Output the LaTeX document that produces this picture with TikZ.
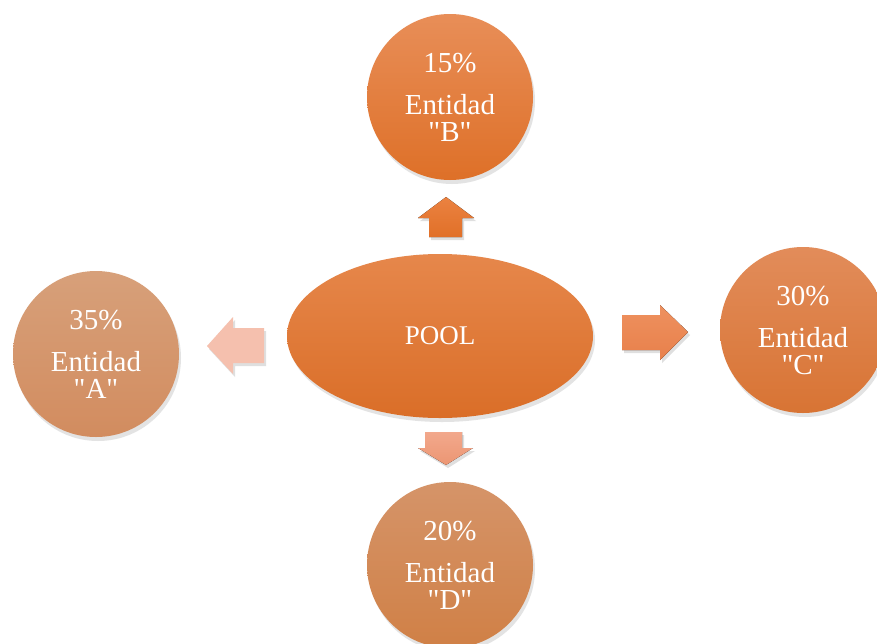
\documentclass[tikz,border=0pt]{standalone}
\usepackage{fontspec}
\setmainfont[Ligatures=TeXOff]{Liberation Serif}
\usetikzlibrary{shadows,shapes.geometric}
\begin{document}
\begin{tikzpicture}[x=1pt,y=-1pt,
  ent/.style={circle, minimum size=166pt, inner sep=0pt, text=white, align=center,
    font=\fontsize{29}{31}\selectfont,
    drop shadow={opacity=0.22, shadow xshift=2pt, shadow yshift=-4pt}},
  blk/.style={drop shadow={opacity=0.25, shadow xshift=2pt, shadow yshift=-3pt}}]
\useasboundingbox[fill=white] (0,0) rectangle (877,643);
% POOL
\node[ellipse, minimum width=306pt, minimum height=164pt, inner sep=0pt,
  top color={rgb,255:red,230;green,135;blue,75}, bottom color={rgb,255:red,218;green,110;blue,40},
  text=white, font=\fontsize{27}{30}\selectfont,
  drop shadow={opacity=0.22, shadow xshift=2pt, shadow yshift=-4pt}] (pool) at (440,336) {POOL};
% entities
\node[ent, top color={rgb,255:red,232;green,142;blue,88}, bottom color={rgb,255:red,222;green,112;blue,40}] (B) at (450,97)
  {15\%\\[11pt]Entidad\\[-4pt]"B"};
\node[ent, top color={rgb,255:red,215;green,160;blue,122}, bottom color={rgb,255:red,210;green,140;blue,95}] (A) at (96,354)
  {35\%\\[11pt]Entidad\\[-4pt]"A"};
\node[ent, top color={rgb,255:red,226;green,140;blue,90}, bottom color={rgb,255:red,216;green,116;blue,52}] (C) at (803,330)
  {30\%\\[11pt]Entidad\\[-4pt]"C"};
\node[ent, top color={rgb,255:red,213;green,148;blue,105}, bottom color={rgb,255:red,208;green,128;blue,70}] (D) at (450,565)
  {20\%\\[11pt]Entidad\\[-4pt]"D"};
% block arrows
\fill[blk, top color={rgb,255:red,235;green,130;blue,65}, bottom color={rgb,255:red,225;green,112;blue,40}]
  (446,197) -- (474,218) -- (462,218) -- (462,237) -- (429,237) -- (429,218) -- (418,218) -- cycle;
\fill[blk, fill={rgb,255:red,245;green,192;blue,174}]
  (207,346) -- (233,317) -- (233,328) -- (264,328) -- (264,363) -- (233,363) -- (233,374) -- cycle;
\fill[blk, top color={rgb,255:red,238;green,145;blue,95}, bottom color={rgb,255:red,232;green,128;blue,75}]
  (688,332) -- (660,305) -- (660,315) -- (622,315) -- (622,350) -- (660,350) -- (660,360) -- cycle;
\fill[blk, top color={rgb,255:red,242;green,168;blue,140}, bottom color={rgb,255:red,236;green,150;blue,115}]
  (446,465) -- (473,448) -- (462,448) -- (462,432) -- (425,432) -- (425,448) -- (418,448) -- cycle;
\end{tikzpicture}
\end{document}
